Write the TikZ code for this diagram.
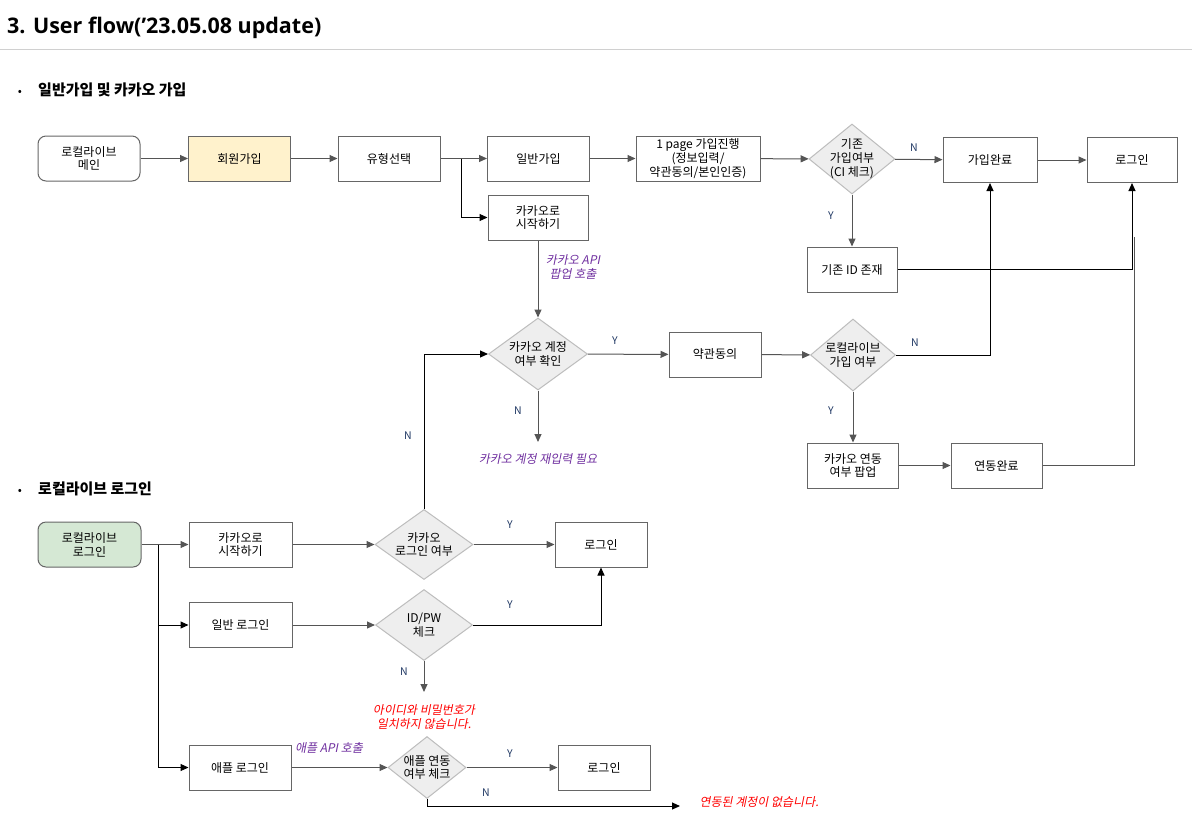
\documentclass[tikz,border=0pt]{standalone}
\usepackage{fontspec}
\setmainfont{Noto Sans CJK KR}
\newfontfamily\titlefont{Open Sans}
\newfontfamily\slantfont[FakeSlant=0.2]{Noto Sans CJK KR}
\usetikzlibrary{shapes.geometric,arrows.meta}
\definecolor{boxline}{HTML}{666666}
\definecolor{dline}{HTML}{BDBDBD}
\definecolor{dfill}{HTML}{EEEEEE}
\definecolor{aline}{HTML}{555555}
\definecolor{joinfill}{HTML}{FFF2CC}
\definecolor{loginfill}{HTML}{D5E8D4}
\definecolor{ynblue}{HTML}{203864}
\definecolor{notepurple}{HTML}{7030A0}
\definecolor{warnred}{HTML}{FF0000}
\definecolor{rulegray}{HTML}{D0D0D0}
\newcommand\boxfont{\fontsize{12}{13.8}\selectfont}
\newcommand\ynfont{\fontsize{10.5}{12}\selectfont}
\newcommand\notefont{\slantfont\fontsize{12}{13.8}\selectfont}
\newcommand\headfont{\fontsize{15}{17}\selectfont\bfseries}

\begin{document}
\begin{tikzpicture}[x=1pt,y=-1pt,
  box/.style={draw=boxline,line width=1pt,minimum width=102pt,minimum height=45pt,inner sep=2pt,align=center,font=\boxfont},
  startbox/.style={box,rounded corners=8pt},
  decision/.style={diamond,draw=dline,fill=dfill,line width=1pt,inner sep=0pt},
  dtext/.style={font=\boxfont,align=center,inner sep=0pt},
  flow/.style={draw=aline,line width=1pt,-{Triangle[length=8pt,width=7pt]}},
  flowk/.style={draw=black,line width=1pt,-{Triangle[length=8pt,width=7pt]}},
  plain/.style={draw=aline,line width=1pt},
  yn/.style={text=ynblue,font=\ynfont},
  note/.style={text=notepurple,font=\notefont,align=center},
  warn/.style={text=warnred,font=\notefont,align=center}]
\fill[white] (0,0) rectangle (1192,831);
\useasboundingbox (0,0) rectangle (1192,831);

% title
\node[anchor=base west,inner sep=0pt,font={\titlefont\fontsize{21.5}{26}\selectfont\bfseries}] (title) at (7,33) {3. User flow(’23.05.08 update)};
\draw[rulegray,line width=0.8pt] (0,49) -- (1192,49);

% join flow
\node[anchor=base,inner sep=0pt,font=\boxfont] (dot1) at (20,95) {•};
\node[anchor=base west,inner sep=0pt,font=\headfont] (head1) at (38,95) {일반가입 및 카카오 가입};

\node[startbox] (main) at (89,158.5) {로컬라이브\\메인};
\node[box,fill=joinfill] (join) at (239.5,158.5) {회원가입};
\node[box] (type) at (389,158.5) {유형선택};
\node[box] (general) at (538.5,158.5) {일반가입};
\node[box,minimum width=124pt] (page1) at (698,158.5) {1 page 가입진행\\(정보입력/\\약관동의/본인인증)};
\node[decision,minimum width=86pt,minimum height=70pt,label={[dtext]center:기존\\가입여부\\(CI 체크)}] (ci) at (852,159) {};
\node[box,minimum width=94pt] (done) at (990,160) {가입완료};
\node[box,minimum width=90pt] (login1) at (1132,160) {로그인};
\node[box,minimum width=90pt] (exist) at (852,269.5) {기존 ID 존재};
\node[box,minimum width=100pt] (kakao1) at (538,217.5) {카카오로\\시작하기};
\node[decision,minimum width=99pt,minimum height=72pt,label={[dtext]center:카카오 계정\\여부 확인}] (kchk) at (538,354) {};
\node[box,minimum width=92pt] (terms) at (715,354.5) {약관동의};
\node[decision,minimum width=85pt,minimum height=72pt,label={[dtext]center:로컬라이브\\가입 여부}] (lchk) at (853,355) {};
\node[box,minimum width=91pt] (link) at (853,465.5) {카카오 연동\\여부 팝업};
\node[box,minimum width=91pt] (linked) at (996.5,465.5) {연동완료};
\coordinate (br1) at (461,158.5);
\coordinate (kreend) at (538,442);
\coordinate (lk) at (1134,237);

\draw[flow] (main) -- (join);
\draw[flow] (join) -- (type);
\draw[flow] (type) -- (general);
\draw[flowk] (br1) |- (kakao1);
\draw[flow] (general) -- (page1);
\draw[flow] (page1) -- (ci);
\draw[flow] (ci) -- (done);
\draw[flow] (ci) -- (exist);
\draw[flow] (done) -- (login1);
\draw[flowk] (exist) -| (login1);
\draw[flow] (kakao1) -- (kchk);
\draw[flow] (kchk) -- (terms);
\draw[flow] (kchk) -- (kreend);
\draw[flow] (terms) -- (lchk);
\draw[flowk] (lchk) -| (done);
\draw[flow] (lchk) -- (link);
\draw[flow] (link) -- (linked);
\draw[plain] (linked) -| (lk);

\node[yn] (ciN) at (914,148) {N};
\node[yn] (ciY) at (831,216) {Y};
\node[note] (kapi) at (573,267) {카카오 API\\팝업 호출};
\node[yn] (kchkY) at (615,341) {Y};
\node[yn] (kchkN) at (518,411) {N};
\node[note] (kre) at (538,459) {카카오 계정 재입력 필요};
\node[yn] (lchkN) at (915,343) {N};
\node[yn] (lchkY) at (831,411) {Y};

% login flow
\node[anchor=base,inner sep=0pt,font=\boxfont] (dot2) at (20,494) {•};
\node[anchor=base west,inner sep=0pt,font=\headfont] (head2) at (38,494) {로컬라이브 로그인};

\node[startbox,fill=loginfill,minimum width=103pt] (llogin) at (89.5,544.5) {로컬라이브\\로그인};
\node[box,minimum width=103pt] (kakao2) at (240.5,544.5) {카카오로\\시작하기};
\node[decision,minimum width=98pt,minimum height=70pt,label={[dtext]center:카카오\\로그인 여부}] (kdec) at (424,544.5) {};
\node[box,minimum width=92pt] (login2) at (601,544.5) {로그인};
\node[box,minimum width=103pt] (genlogin) at (240.5,625) {일반 로그인};
\node[decision,minimum width=97pt,minimum height=71pt,label={[dtext]center:ID/PW\\체크}] (idpw) at (424,625) {};
\node[box] (apple) at (240,767.5) {애플 로그인};
\node[decision,minimum width=78pt,minimum height=62pt,label={[dtext]center:애플 연동\\여부 체크}] (adec) at (427,767.5) {};
\node[box,minimum width=92pt] (login3) at (604,767.5) {로그인};
\coordinate (br2) at (158,544.5);
\coordinate (pwend) at (424,692);
\coordinate (nolinkend) at (680,806);

\draw[flow] (llogin) -- (kakao2);
\draw[flowk] (br2) |- (genlogin);
\draw[flowk] (br2) |- (apple);
\draw[flow] (kakao2) -- (kdec);
\draw[flowk] (kdec) |- (kchk);
\draw[flow] (kdec) -- (login2);
\draw[flow] (genlogin) -- (idpw);
\draw[flowk] (idpw) -| (login2);
\draw[flow] (idpw) -- (pwend);
\draw[flow] (apple) -- (adec);
\draw[flow] (adec) -- (login3);
\draw[flowk] (adec.south) |- (nolinkend);

\node[yn] (kdecN) at (408,436) {N};
\node[yn] (kdecY) at (510,525) {Y};
\node[yn] (idpwY) at (510,605) {Y};
\node[yn] (idpwN) at (404,672) {N};
\node[warn] (pwerr) at (424,717) {아이디와 비밀번호가\\일치하지 않습니다.};
\node[note] (aapi) at (329,748) {애플 API 호출};
\node[yn] (adecY) at (510,754) {Y};
\node[yn] (adecN) at (486,793) {N};
\node[warn,anchor=west] (nolink) at (696,802) {연동된 계정이 없습니다.};
\end{tikzpicture}
\end{document}
